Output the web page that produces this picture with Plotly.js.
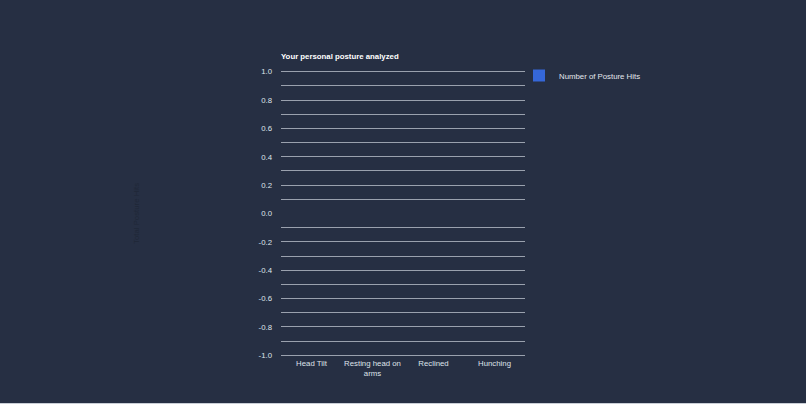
<!DOCTYPE html>
<html>
<head>
<meta charset="utf-8">
<script src="https://cdn.plot.ly/plotly-3.0.1.min.js"></script>
<style>
html,body{margin:0;padding:0;background:#c9ced6;}
#chart{width:806px;height:403px;}
</style>
</head>
<body>
<div id="chart"></div>
<script>
const categories = ['Head Tilt', 'Resting head on<br>arms', 'Reclined', 'Hunching'];
const postureHits = [0, 0, 0, 0];
const seriesName = 'Number of Posture Hits';
const chartTitle = 'Your personal posture analyzed';
const yTitle = 'Total Posture Hits';
const yTickVals = [-1, -0.9, -0.8, -0.7, -0.6, -0.5, -0.4, -0.3, -0.2, -0.1, 0, 0.1, 0.2, 0.3, 0.4, 0.5, 0.6, 0.7, 0.8, 0.9, 1];
const yTickText = ['-1.0', '', '-0.8', '', '-0.6', '', '-0.4', '', '-0.2', '', '0.0', '', '0.2', '', '0.4', '', '0.6', '', '0.8', '', '1.0'];

const bg = '#262f43';
const fontFam = 'Liberation Sans, Arial, Helvetica, sans-serif';
const fs = 7.8;

const data = [{
  type: 'bar',
  x: categories,
  y: postureHits,
  name: seriesName,
  marker: {color: '#3567d8'},
  showlegend: true
}];

const layout = {
  width: 806, height: 403,
  paper_bgcolor: bg, plot_bgcolor: bg,
  margin: {l: 281, r: 281, t: 70, b: 46, pad: 0},
  font: {family: fontFam, color: '#dfe3ea', size: fs},
  title: {
    text: '<b>' + chartTitle + '</b>',
    font: {size: fs, color: '#ffffff', family: fontFam},
    x: 0, xanchor: 'left', xref: 'paper',
    y: 1 - 56/403, yanchor: 'middle'
  },
  xaxis: {
    type: 'category',
    showgrid: false, zeroline: false, showline: false,
    ticks: '', tickfont: {size: fs, color: '#dfe3ea'},
    ticklabelstandoff: 0
  },
  yaxis: {
    range: [-1.012, 1.012],
    tickmode: 'array', tickvals: yTickVals, ticktext: yTickText,
    showgrid: true, gridcolor: '#9aa1ae', gridwidth: 1,
    zeroline: true, zerolinecolor: bg, zerolinewidth: 3,
    showline: false, ticks: '',
    ticklabelstandoff: 8,
    tickfont: {size: fs, color: '#dfe3ea'}
  },
  showlegend: true,
  legend: {
    x: (519-281)/244, xanchor: 'left', y: 1 + 9/287, yanchor: 'top',
    bgcolor: 'rgba(0,0,0,0)',
    font: {size: fs, color: '#e4e7ed'},
    itemwidth: 30
  },
  annotations: [
    {text: yTitle, xref: 'paper', yref: 'paper', x: (130-281)/244, y: 0.5,
     textangle: -90, showarrow: false, font: {size: fs, color: '#1f2737'}}
  ]
};

Plotly.newPlot('chart', data, layout, {displayModeBar: false, staticPlot: true});
</script>
</body>
</html>
